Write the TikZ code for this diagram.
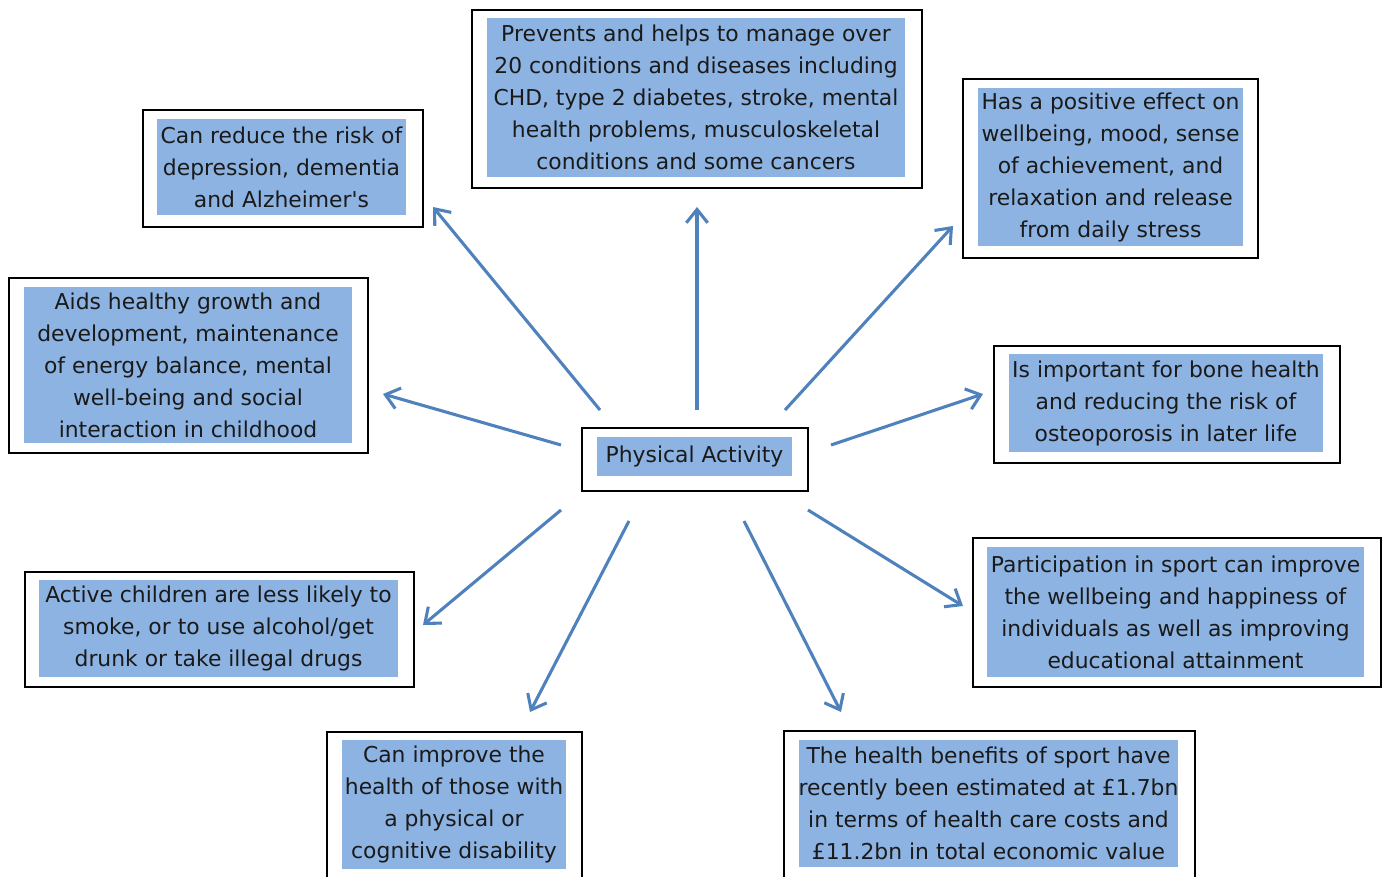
\documentclass[tikz,border=0pt]{standalone}
\usepackage{fontspec}
\newfontfamily\dvs{DejaVu Sans}
\usetikzlibrary{arrows.meta,fit}
\definecolor{arrowblue}{HTML}{4F81BD}
\definecolor{hiblue}{HTML}{8DB3E2}
\definecolor{txtcol}{HTML}{1A1A1A}
\tikzset{
  outerbox/.style={draw=black, line width=1.2pt, fill=white, inner sep=0pt},
  innerbox/.style={draw=none, fill=hiblue, inner sep=0pt},
  txt/.style={align=center, inner sep=0pt, text=txtcol, font=\dvs\fontsize{16.4}{24}\selectfont},
  arr/.style={draw=arrowblue, line width=2.3pt, -{Straight Barb[length=10pt,width=16pt,line width=2.3pt]}}
}
\begin{document}
\begin{tikzpicture}[x=0.75pt,y=-0.75pt]
\useasboundingbox (0,0) rectangle (1384,877);
\clip (0,0) rectangle (1384,877);
\fill[white] (0,0) rectangle (1384,877);

% top centre
\node[outerbox, fit={(472,10)(922,188)}] (b1o) {};
\node[innerbox, fit={(487,18)(905,177)}] (b1i) {};
\node[txt] (b1) at (b1i.center) {Prevents and helps to manage over\\20 conditions and diseases including\\CHD, type 2 diabetes, stroke, mental\\health problems, musculoskeletal\\conditions and some cancers};

% top left
\node[outerbox, fit={(143,110)(423,227)}] (b2o) {};
\node[innerbox, fit={(157,119)(406,215)}] (b2i) {};
\node[txt] (b2) at (b2i.center) {Can reduce the risk of\\depression, dementia\\and Alzheimer's};

% top right
\node[outerbox, fit={(963,79)(1258,258)}] (b3o) {};
\node[innerbox, fit={(978,88)(1243,246)}] (b3i) {};
\node[txt] (b3) at (b3i.center) {Has a positive effect on\\wellbeing, mood, sense\\of achievement, and\\relaxation and release\\from daily stress};

% left
\node[outerbox, fit={(9,278)(368,453)}] (b4o) {};
\node[innerbox, fit={(24,287)(352,443)}] (b4i) {};
\node[txt] (b4) at (b4i.center) {Aids healthy growth and\\development, maintenance\\of energy balance, mental\\well-being and social\\interaction in childhood};

% right
\node[outerbox, fit={(994,346)(1340,463)}] (b5o) {};
\node[innerbox, fit={(1009,354)(1323,452)}] (b5i) {};
\node[txt] (b5) at (b5i.center) {Is important for bone health\\and reducing the risk of\\osteoporosis in later life};

% centre
\node[outerbox, fit={(582,428)(808,491)}] (c0o) {};
\node[innerbox, fit={(597,437)(792,476)}] (c0i) {};
\node[txt] (c0) at (c0i.center) {Physical Activity};

% lower left
\node[outerbox, fit={(25,572)(414,687)}] (b6o) {};
\node[innerbox, fit={(39,580)(398,677)}] (b6i) {};
\node[txt] (b6) at (b6i.center) {Active children are less likely to\\smoke, or to use alcohol/get\\drunk or take illegal drugs};

% lower right
\node[outerbox, fit={(973,538)(1381,687)}] (b7o) {};
\node[innerbox, fit={(987,547)(1364,677)}] (b7i) {};
\node[txt] (b7) at (b7i.center) {Participation in sport can improve\\the wellbeing and happiness of\\individuals as well as improving\\educational attainment};

% bottom left
\node[outerbox, fit={(327,732)(582,900)}] (b8o) {};
\node[innerbox, fit={(342,740)(566,869)}] (b8i) {};
\node[txt] (b8) at (b8i.center) {Can improve the\\health of those with\\a physical or\\cognitive disability};

% bottom right
\node[outerbox, fit={(784,731)(1195,900)}] (b9o) {};
\node[innerbox, fit={(799,740)(1178,867)}] (b9i) {};
\node[txt] (b9) at (b9i.center) {The health benefits of sport have\\recently been estimated at £1.7bn\\in terms of health care costs and\\£11.2bn in total economic value};

% arrow end points
\coordinate (s1) at (600,410);   \coordinate (e1) at (433,207);
\coordinate (s2) at (697,410);   \coordinate (e2) at (697,207);
\coordinate (s3) at (785,410);   \coordinate (e3) at (953,226);
\coordinate (s4) at (561,445);   \coordinate (e4) at (383,394);
\coordinate (s5) at (831,445);   \coordinate (e5) at (983,394);
\coordinate (s6) at (561,510);   \coordinate (e6) at (423,625);
\coordinate (s7) at (629,521);   \coordinate (e7) at (530,712);
\coordinate (s8) at (744,521);   \coordinate (e8) at (841,712);
\coordinate (s9) at (808,510);   \coordinate (e9) at (963,606);

\draw[arr] (s1) -- (e1);
\draw[arr] (s2) -- (e2);
\draw[arr] (s3) -- (e3);
\draw[arr] (s4) -- (e4);
\draw[arr] (s5) -- (e5);
\draw[arr] (s6) -- (e6);
\draw[arr] (s7) -- (e7);
\draw[arr] (s8) -- (e8);
\draw[arr] (s9) -- (e9);
\end{tikzpicture}
\end{document}
